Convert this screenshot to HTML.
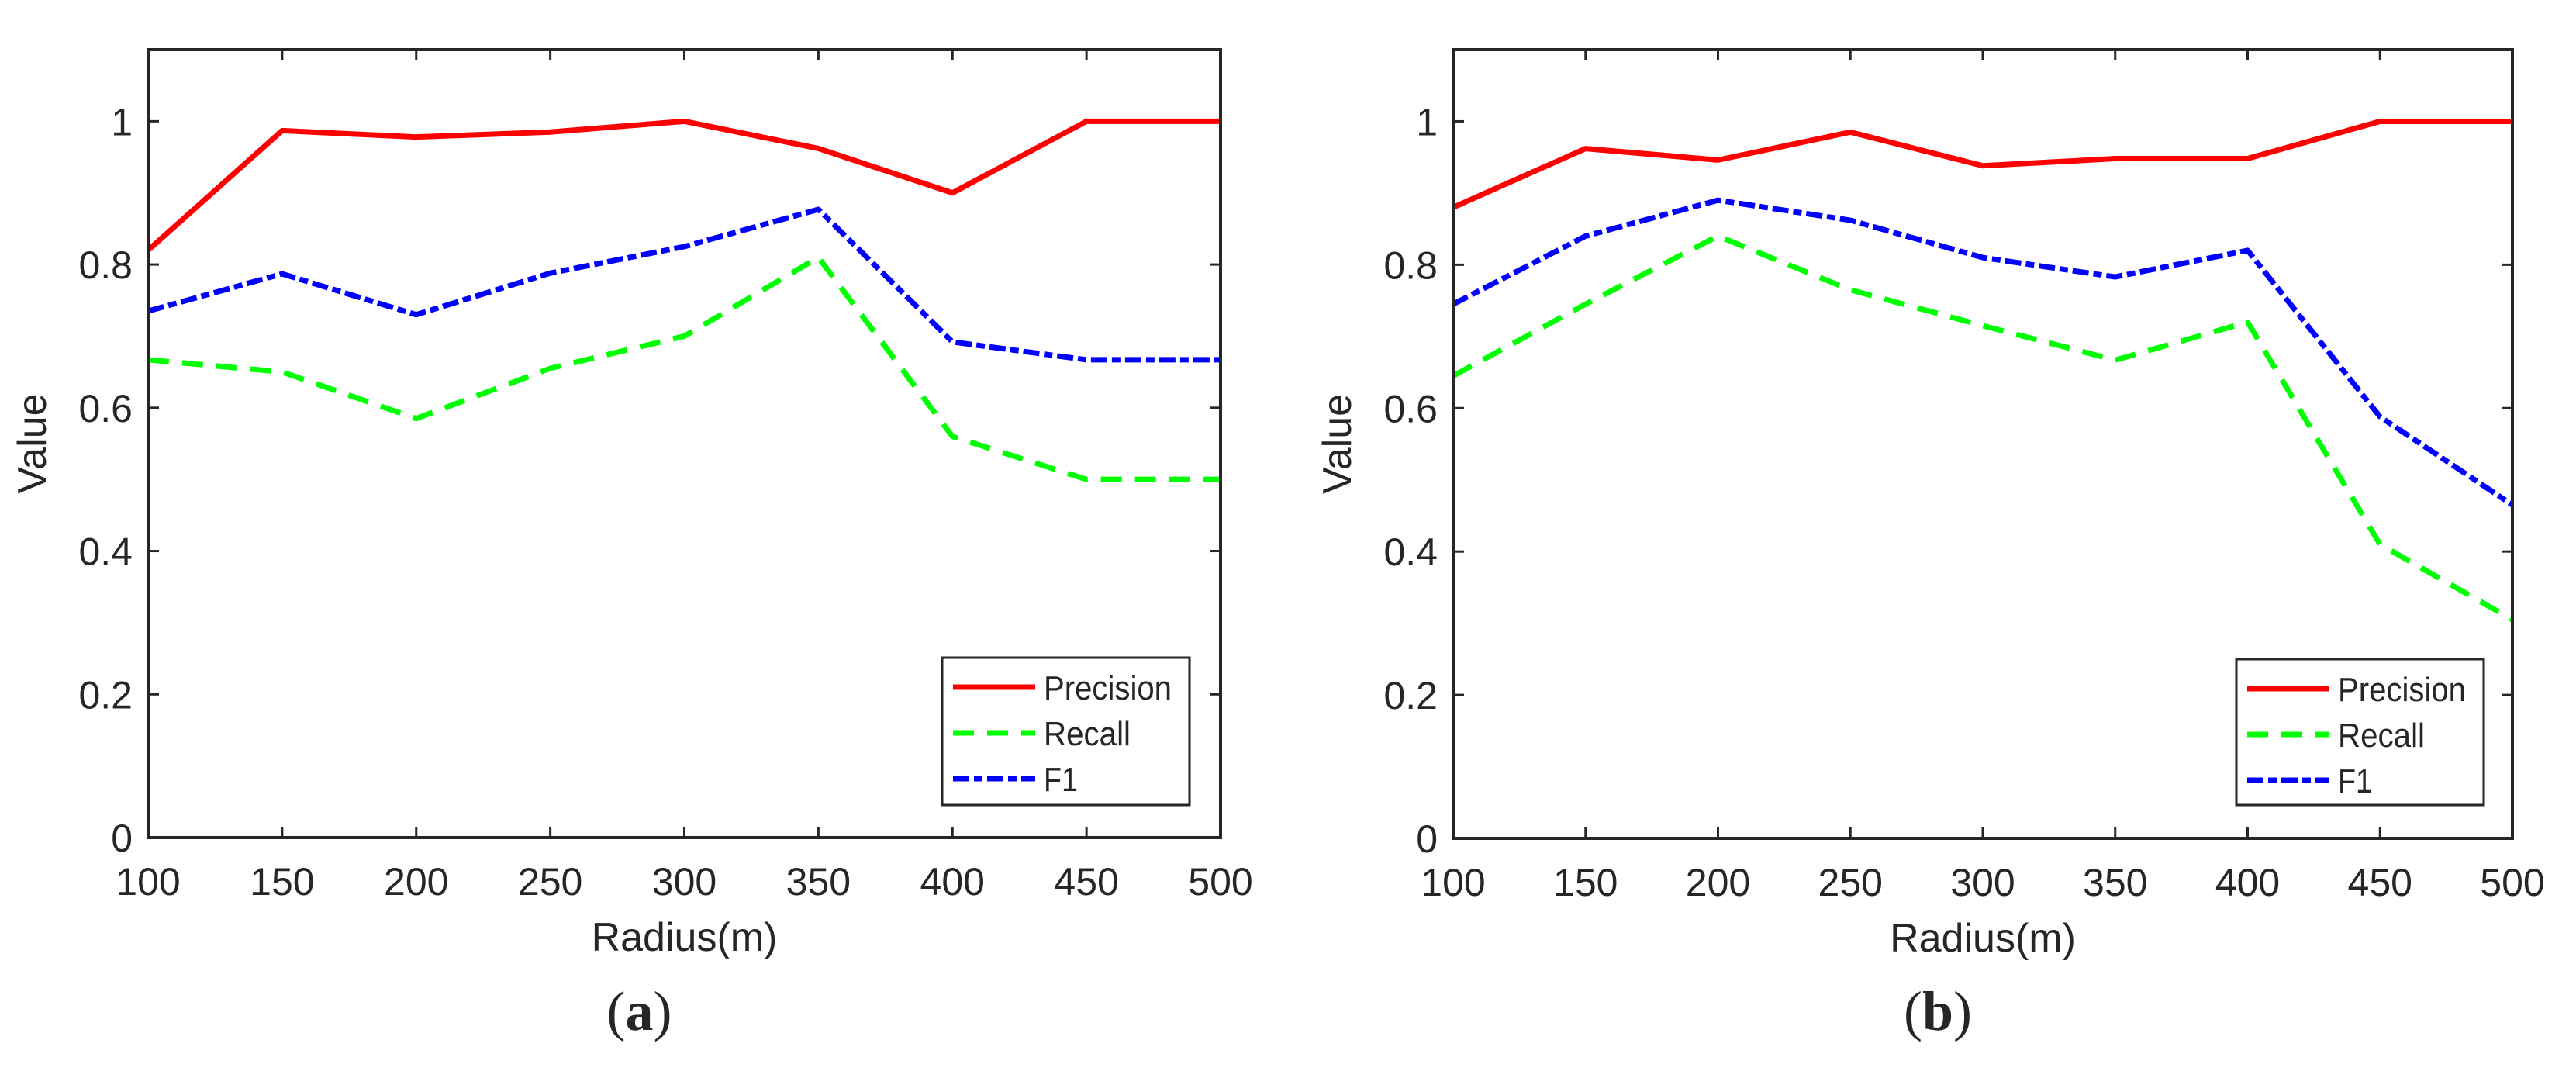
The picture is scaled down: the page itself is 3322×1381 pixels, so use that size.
<!DOCTYPE html>
<html><head><meta charset="utf-8">
<style>
html,body{margin:0;padding:0;background:#fff;}
svg{display:block;}
text{font-family:"Liberation Sans",Arial,sans-serif;fill:#262626;}
</style></head>
<body>
<svg id="fig" width="3322" height="1381" viewBox="0 0 3322 1381" xmlns="http://www.w3.org/2000/svg"></svg>
<script>
const radius = [100,150,200,250,300,350,400,450,500];
const yTicks = [0,0.2,0.4,0.6,0.8,1];
const yTickLabels = ['0','0.2','0.4','0.6','0.8','1'];
const precisionA = [0.82,0.987,0.978,0.985,1.0,0.962,0.9,1.0,1.0];
const recallA = [0.667,0.65,0.585,0.655,0.70,0.81,0.56,0.50,0.50];
const f1A = [0.735,0.787,0.73,0.788,0.825,0.877,0.692,0.667,0.667];
const precisionB = [0.88,0.962,0.946,0.985,0.938,0.948,0.948,1.0,1.0];
const recallB = [0.645,0.745,0.84,0.765,0.715,0.667,0.72,0.41,0.305];
const f1B = [0.745,0.84,0.89,0.862,0.81,0.783,0.82,0.588,0.465];
const seriesNames = ['Precision','Recall','F1'];

const NS='http://www.w3.org/2000/svg';
const svg=document.getElementById('fig');
function mk(tag,attrs,parent){const e=document.createElementNS(NS,tag);for(const k in attrs)e.setAttribute(k,attrs[k]);(parent||svg).appendChild(e);return e;}
const styles=[{c:'#ff0000',d:''},{c:'#00ff00',d:'27 17'},{c:'#0000ff',d:'21 6 11 6'}];
const legW=[165,112,44];

function panel(id,L,R,T,B,data,label,legL,legR,legT,legB){
  const g=mk('g',{});
  
  
  const xs=v=>L+(v-100)/400*(R-L);
  const ys=v=>B-v/1.1*(B-T);
  yTicks.forEach((t,i)=>{
    const y=ys(t);
    const tl=mk('line',{x1:L,x2:L+14,y1:y,y2:y,stroke:'#262626','stroke-width':3},g);
    
    
    const tr=mk('line',{x1:R-14,x2:R,y1:y,y2:y,stroke:'#262626','stroke-width':3},g);
    
    
    const tx=mk('text',{x:L-20,y:y+18,'text-anchor':'end','font-size':50},g);
    tx.textContent=yTickLabels[i];
    
    
  });
  radius.forEach(r=>{
    const x=xs(r);
    const tb=mk('line',{x1:x,x2:x,y1:B-14,y2:B,stroke:'#262626','stroke-width':3},g);
    
    
    const tt=mk('line',{x1:x,x2:x,y1:T,y2:T+14,stroke:'#262626','stroke-width':3},g);
    
    
    const tx=mk('text',{x:x,y:B+74,'text-anchor':'middle','font-size':50},g);
    tx.textContent=String(r);
    
    
  });
  data.forEach((vals,si)=>{
    const p=mk('polyline',{points:vals.map((v,i)=>xs(radius[i])+','+ys(v)).join(' '),fill:'none',stroke:styles[si].c,'stroke-width':7,'stroke-dasharray':styles[si].d||'none','stroke-linejoin':'round'},g);
    
    
  });
  const box=mk('rect',{x:L,y:T,width:R-L,height:B-T,fill:'none',stroke:'#262626','stroke-width':4},g);
  
  
  const lg=mk('g',{},g);
  
  
  mk('rect',{x:legL,y:legT,width:legR-legL,height:legB-legT,fill:'#fff',stroke:'#262626','stroke-width':3},lg);
  const rows=[legT+38,legT+97,legT+156];
  seriesNames.forEach((n,si)=>{
    const e=mk('g',{},lg);
    
    
    mk('line',{x1:legL+14,x2:legL+120,y1:rows[si],y2:rows[si],stroke:styles[si].c,'stroke-width':7,'stroke-dasharray':styles[si].d||'none'},e);
    const t=mk('text',{x:legL+131,y:rows[si]+16,'font-size':44,textLength:legW[si],lengthAdjust:'spacingAndGlyphs'},e);
    t.textContent=n;
  });
  const xl=mk('text',{x:(L+R)/2,y:B+146,'text-anchor':'middle','font-size':52},g);
  xl.textContent='Radius(m)';
  
  
  const vx=L-132, vy=(T+B)/2;
  const yl=mk('text',{x:vx,y:vy,'text-anchor':'middle','font-size':52,transform:'rotate(-90 '+vx+' '+vy+')'},g);
  yl.textContent='Value';
  
  
  const cap=mk('text',{x:(L+R)/2-58,y:1328,'text-anchor':'middle','font-size':72,style:'font-family:"Liberation Serif",serif'},g);
  cap.innerHTML='(<tspan font-weight="bold">'+label+'</tspan>)';
  
  
}
panel('a',191,1574,64,1080,[precisionA,recallA,f1A],'a',1215,1534,848,1038);
panel('b',1874,3240,64,1081,[precisionB,recallB,f1B],'b',2884,3203,850,1038);
</script>
</body></html>
